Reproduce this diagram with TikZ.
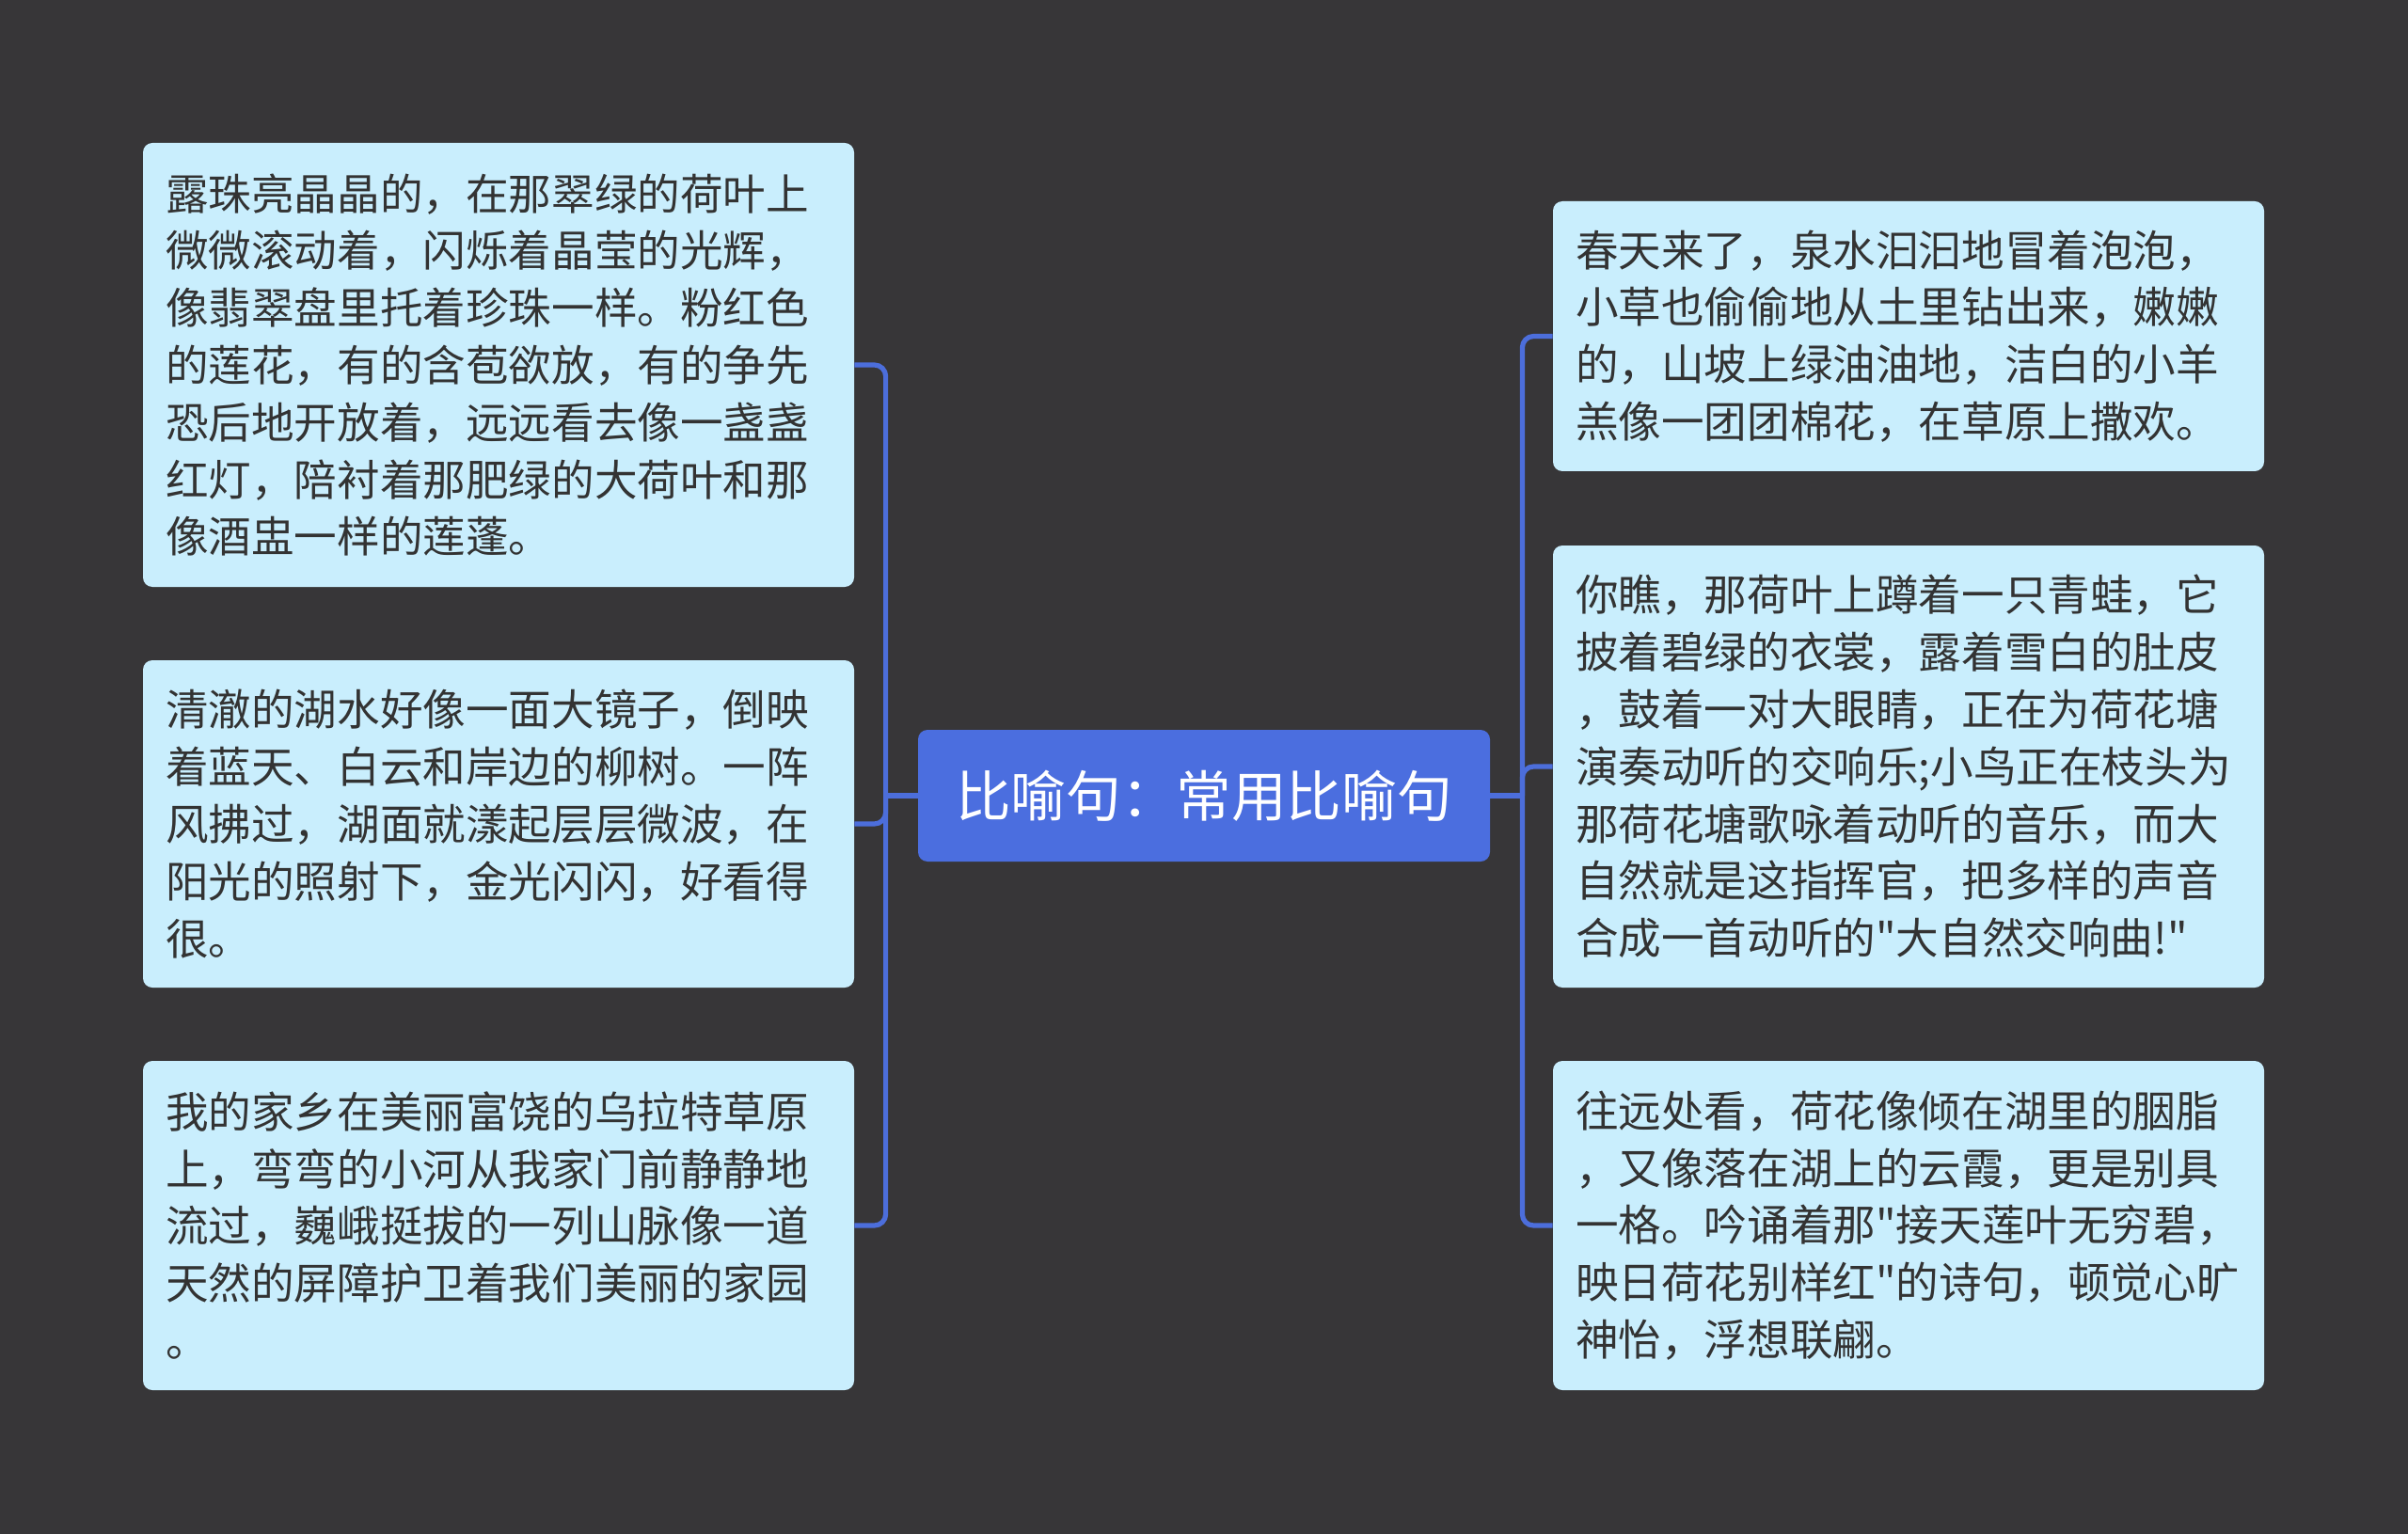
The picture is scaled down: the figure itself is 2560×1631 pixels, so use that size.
\documentclass[tikz,border=0pt]{standalone}
\usepackage{fontspec}
\setmainfont{Noto Sans CJK SC}[Ligatures=TeXOff]
\definecolor{bgdark}{HTML}{373638}
\definecolor{leafblue}{HTML}{C9EEFD}
\definecolor{rootblue}{HTML}{4B6EDF}
\definecolor{linkblue}{HTML}{4C6EDB}
\definecolor{inkgray}{HTML}{333333}

\begin{document}
\begin{tikzpicture}[x=0.5pt,y=-0.5pt,
  leaf/.style={fill=leafblue,rounded corners=5pt,text=inkgray,align=left,
    text width=354pt,inner xsep=12pt,inner ysep=0pt,
    font=\fontsize{22.8pt}{30.4pt}\selectfont},
  topic/.style={fill=rootblue,rounded corners=5pt,text=white,
    minimum width=304pt,minimum height=70pt,inner sep=0pt,
    font=\fontsize{29.3pt}{34pt}\selectfont},
  branch/.style={draw=linkblue,line width=2.6pt,rounded corners=6pt}]
  \fill[bgdark] (0,0) rectangle (2560,1631);

  \node[topic] (root) at (1280,846) {比喻句：常用比喻句};

  \node[leaf,minimum height=236pt] (l1) at (530,388) {露珠亮晶晶的，在那翠绿的荷叶上\\
    微微滚动着，闪烁着晶莹的光辉，\\
    像翡翠盘里托着珍珠一样。粉红色\\
    的莲花，有的含苞欲放，有的争先\\
    恐后地开放着，远远看去像一盏盏\\
    红灯，陪衬着那肥绿的大荷叶和那\\
    像酒盅一样的莲蓬。};
  \node[leaf,minimum height=174pt] (l2) at (530,876) {清澈的湖水好像一面大镜子，倒映\\
    着蓝天、白云和岸边的柳树。一阵\\
    风拂过，湖面就漾起层层微波，在\\
    阳光的照射下，金光闪闪，好看得\\
    很。};
  \node[leaf,minimum height=175pt] (l3) at (530,1303) {我的家乡在美丽富饶的乌拉特草原\\
    上，弯弯的小河从我家门前静静地\\
    流过，巍峨挺拔的一列山脉像一道\\
    天然的屏障护卫着我们美丽的家园\\
    。};

  \node[leaf,minimum height=143.5pt] (r1) at (2029,357.5) {春天来了，泉水汩汩地冒着泡泡，\\
    小草也偷偷地从土里钻出来，嫩嫩\\
    的，山坡上绿油油地，洁白的小羊\\
    羔像一团团棉花，在草原上撒欢。};
  \node[leaf,minimum height=235pt] (r2) at (2029,815) {你瞧，那荷叶上蹲着一只青蛙，它\\
    披着碧绿的衣裳，露着雪白的肚皮\\
    ，鼓着一对大眼睛，正在为荷花塘\\
    演奏动听的交响乐;小鸟正在枝头为\\
    那荷花塘歌咏着动听的音乐，而大\\
    自然就是这指挥官，把多样的声音\\
    合成一首动听的"大自然交响曲!"};
  \node[leaf,minimum height=175pt] (r3) at (2029,1303) {往远处看，荷花像倾在湖里的胭脂\\
    ，又像落在湖上的云霞，更是别具\\
    一格。吟诵着那"接天莲叶无穷碧，\\
    映日荷花别样红"的诗句，顿觉心旷\\
    神怡，浮想联翩。};

  \coordinate (lj) at ([xshift=-17pt]root.west);
  \coordinate (rj) at ([xshift=17pt]root.east);
  \draw[branch] (root.west) -- (lj);
  \draw[branch] (root.east) -- (rj);
  \foreach \b in {l1,l2,l3} {
    \draw[branch] (lj) |- (\b.east);
  }
  \foreach \b in {r1,r2,r3} {
    \draw[branch] (rj) |- (\b.west);
  }
\end{tikzpicture}
\end{document}
